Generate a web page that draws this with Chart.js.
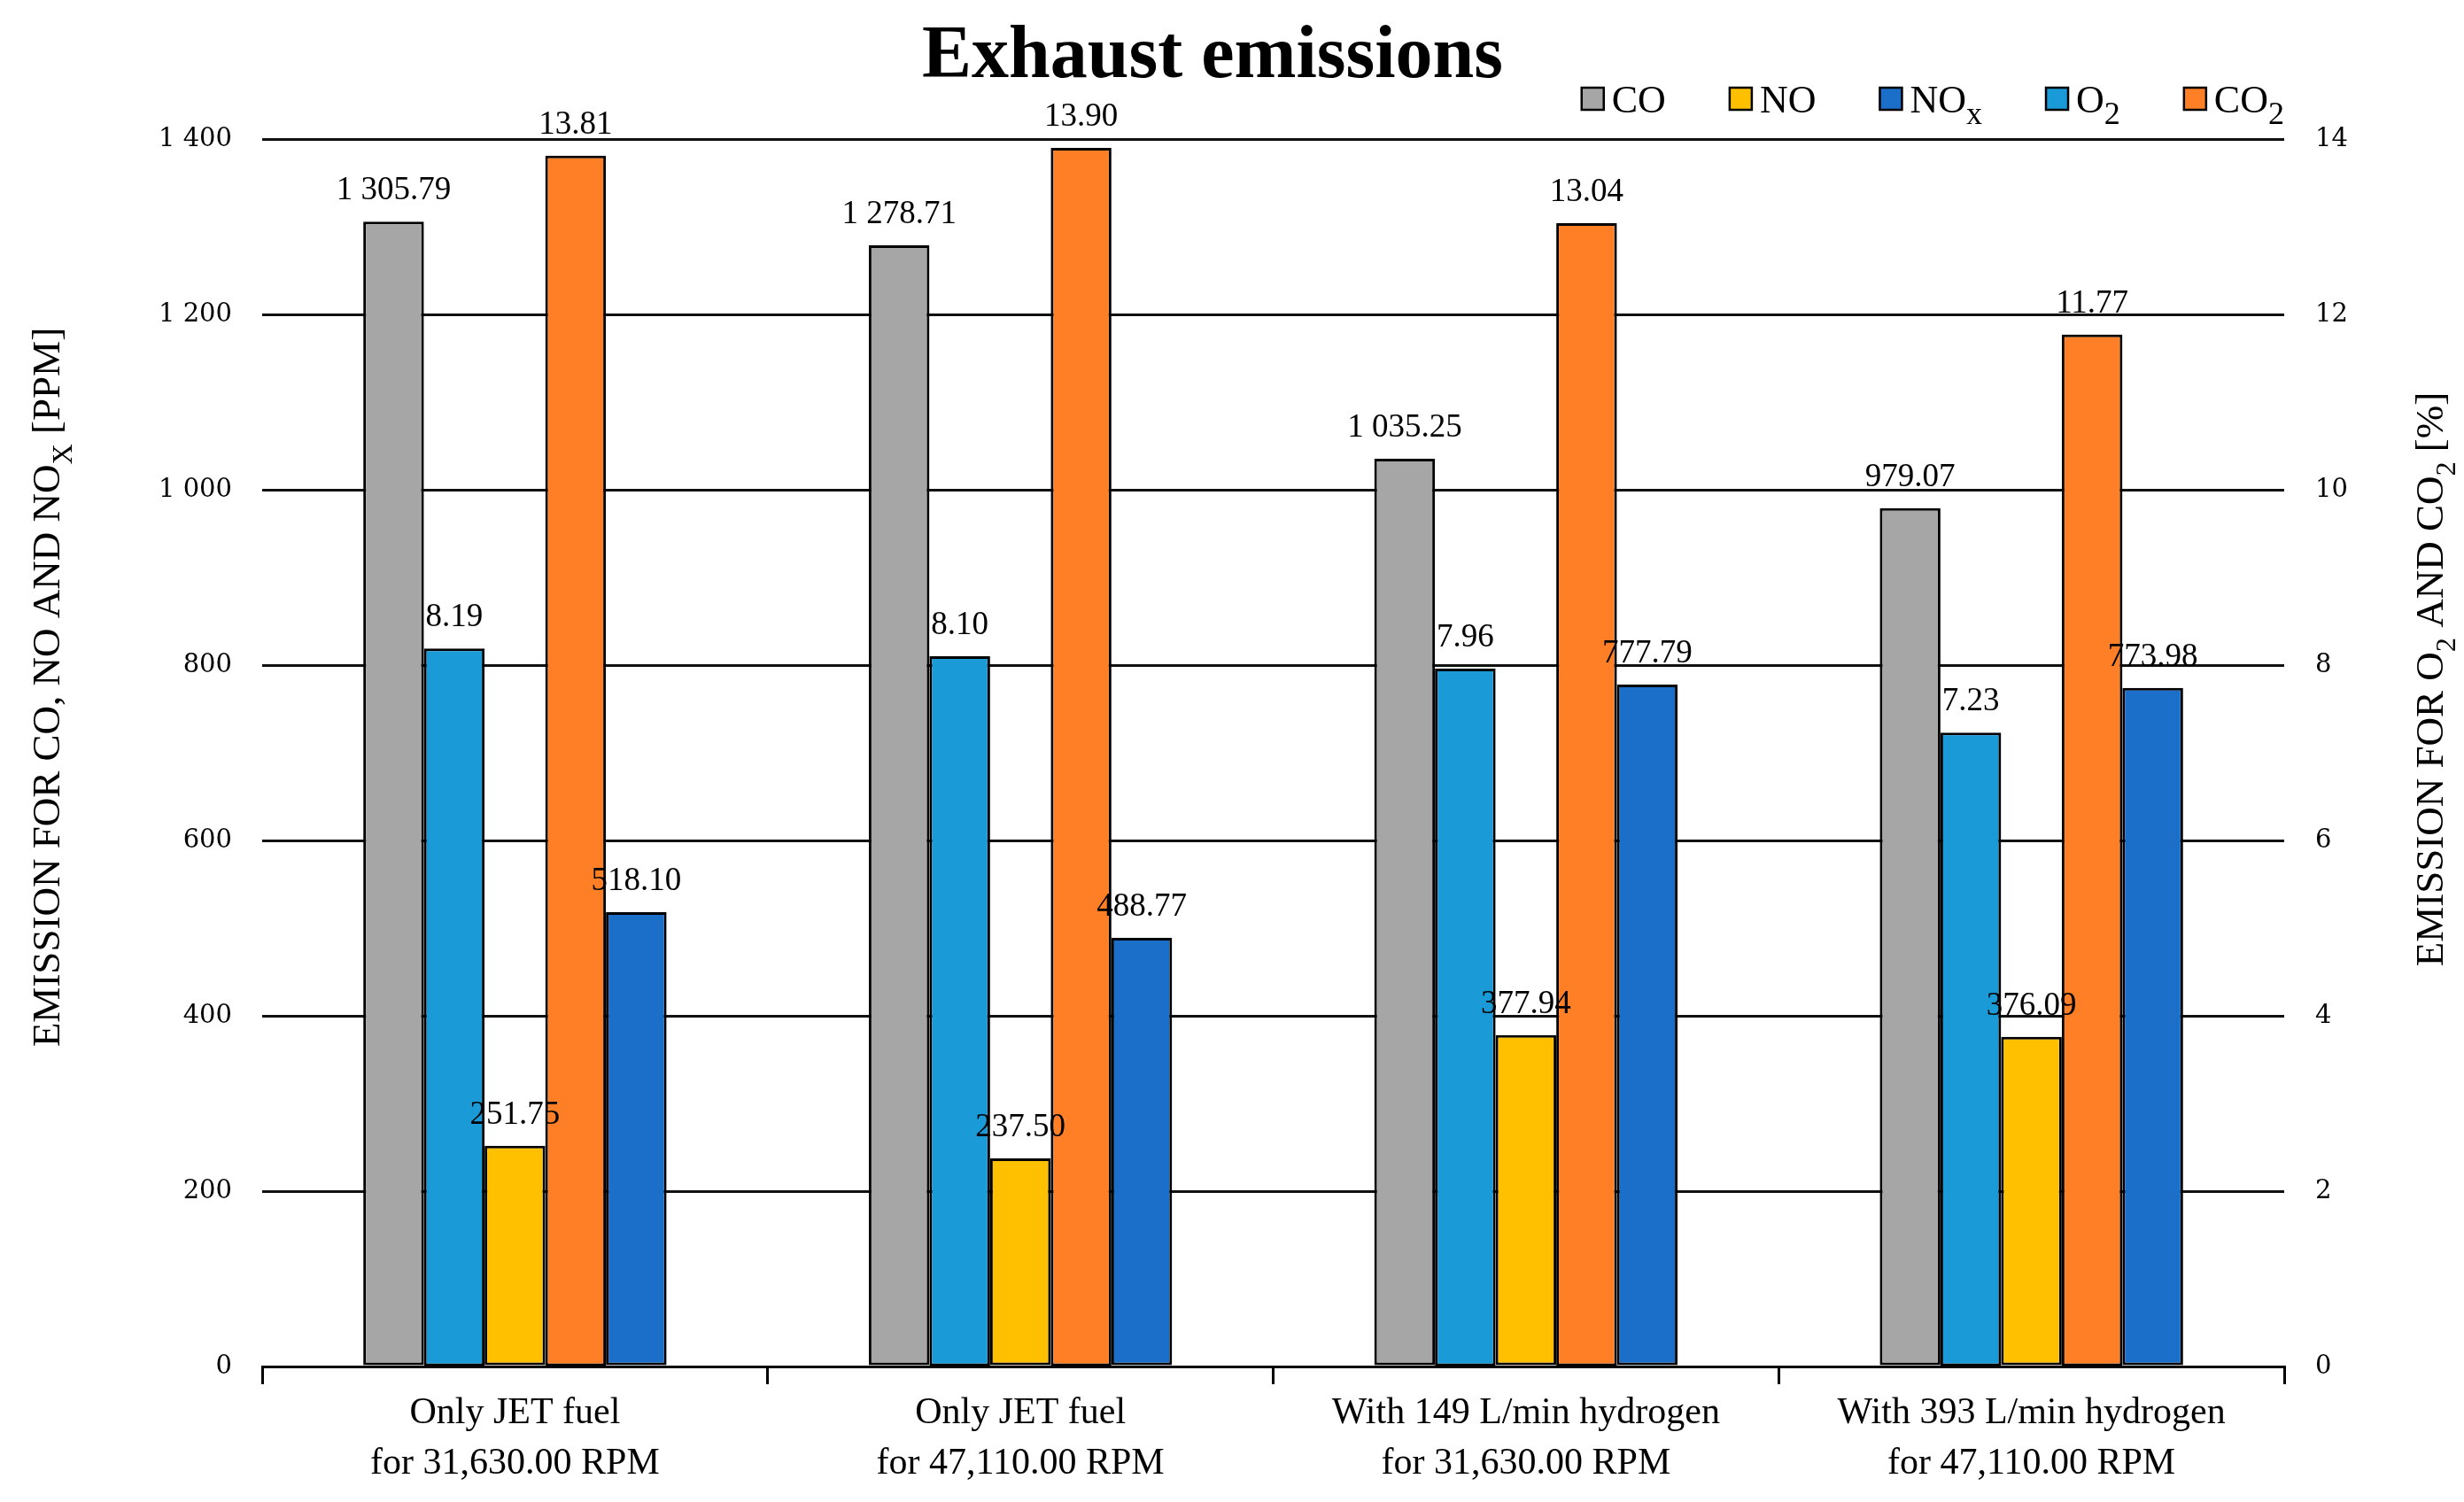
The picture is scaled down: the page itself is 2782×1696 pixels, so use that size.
<!DOCTYPE html>
<html>
<head>
<meta charset="utf-8">
<title>Exhaust emissions</title>
<script src="https://cdn.jsdelivr.net/npm/chart.js@4.4.1/dist/chart.umd.min.js"></script>
<style>
  html, body { margin: 0; padding: 0; background: #fff; }
  #wrap { width: 2782px; height: 1696px; position: relative; }
</style>
</head>
<body>
<div id="wrap"><canvas id="chart"></canvas></div>
<script>
'use strict'

// ************* Data ****************
let categories = [
  ['Only JET fuel', 'for 31,630.00 RPM'],
  ['Only JET fuel', 'for 47,110.00 RPM'],
  ['With 149 L/min hydrogen', 'for 31,630.00 RPM'],
  ['With 393 L/min hydrogen', 'for 47,110.00 RPM']
];
let coValues = [1305.79, 1278.71, 1035.25, 979.07];
let noValues = [251.75, 237.50, 377.94, 376.09];
let noxValues = [518.10, 488.77, 777.79, 773.98];
let o2Values = [8.19, 8.10, 7.96, 7.23];
let co2Values = [13.81, 13.90, 13.04, 11.77];
let ppmTicks = [0, 200, 400, 600, 800, 1000, 1200, 1400];
let percentTicks = [0, 2, 4, 6, 8, 10, 12, 14];

// legend shows the series in this order (dataset indexes)
let legendOrder = [0, 2, 4, 1, 3];

const SERIF = '"Liberation Serif", "Times New Roman", serif';

// ************ Helpers **********
function withSpaces(n, digits) {
  let parts = n.toFixed(digits).split('.');
  parts[0] = parts[0].replace(/\B(?=(\d{3})+(?!\d))/g, ' ');
  return parts.join('.');
}

// draws text pieces, some of them as subscripts; returns total width
function drawRich(ctx, parts, x, y, size, align, subScale) {
  subScale = subScale || 0.72;
  let widths = parts.map(p => {
    ctx.font = (p[1] ? size * subScale : size) + 'px ' + SERIF;
    return ctx.measureText(p[0]).width;
  });
  let total = widths.reduce((a, b) => a + b, 0);
  let cx = x;
  if (align === 'center') cx = x - total / 2;
  if (align === 'right') cx = x - total;
  ctx.textAlign = 'left';
  parts.forEach((p, i) => {
    ctx.font = (p[1] ? size * subScale : size) + 'px ' + SERIF;
    ctx.fillText(p[0], cx, p[1] ? y + size * 0.3 : y);
    cx += widths[i];
  });
  return total;
}

function measureRich(ctx, parts, size, subScale) {
  subScale = subScale || 0.72;
  let total = 0;
  parts.forEach(p => {
    ctx.font = (p[1] ? size * subScale : size) + 'px ' + SERIF;
    total += ctx.measureText(p[0]).width;
  });
  return total;
}

function labelParts(label) {
  let m = label.match(/^(.*?)([x2]?)$/);
  let parts = [[m[1], false]];
  if (m[2]) parts.push([m[2], true]);
  return parts;
}

// ************ Plugins **********
let titlePlugin = {
  id: 'titleAndAxisNames',
  afterDraw(chart) {
    let ctx = chart.ctx;
    let area = chart.chartArea;
    ctx.save();
    ctx.fillStyle = '#000';
    ctx.textBaseline = 'alphabetic';
    ctx.textAlign = 'center';
    ctx.font = 'bold 84px ' + SERIF;
    ctx.fillText('Exhaust emissions', chart.width / 2 - 22, 87);

    // left axis name
    ctx.save();
    ctx.translate(67, (area.top + area.bottom) / 2 - 74);
    ctx.rotate(-Math.PI / 2);
    drawRich(ctx, [['EMISSION FOR CO, NO AND NO', false], ['X', true], [' [PPM]', false]], 0, 0, 45, 'center');
    ctx.restore();

    // right axis name
    ctx.save();
    ctx.translate(chart.width - 24, (area.top + area.bottom) / 2 - 83);
    ctx.rotate(-Math.PI / 2);
    drawRich(ctx, [['EMISSION FOR O', false], ['2', true], [' AND CO', false], ['2', true], [' [%]', false]], 0, 0, 45, 'center');
    ctx.restore();
    ctx.restore();
  }
};

let legendPlugin = {
  id: 'boxLegend',
  afterDraw(chart) {
    let ctx = chart.ctx;
    let size = 44, box = 25, gap = 9, spacing = 72, sub = 0.82;
    let baseline = 127;
    ctx.save();
    ctx.textBaseline = 'alphabetic';
    let x = chart.chartArea.right;
    for (let k = legendOrder.length - 1; k >= 0; k--) {
      let ds = chart.data.datasets[legendOrder[k]];
      let parts = labelParts(ds.label);
      let w = measureRich(ctx, parts, size, sub);
      let textX = x - w;
      ctx.fillStyle = '#000';
      drawRich(ctx, parts, textX, baseline, size, 'left', sub);
      let boxX = textX - gap - box;
      ctx.fillStyle = ds.backgroundColor;
      ctx.fillRect(boxX, baseline - 28, box, box);
      ctx.lineWidth = 2.5;
      ctx.strokeStyle = '#000';
      ctx.strokeRect(boxX, baseline - 28, box, box);
      x = boxX - spacing;
    }
    ctx.restore();
  }
};

let valueLabels = {
  id: 'valueLabels',
  afterDatasetsDraw(chart) {
    let ctx = chart.ctx;
    ctx.save();
    ctx.fillStyle = '#000';
    ctx.font = '37px ' + SERIF;
    ctx.textAlign = 'center';
    ctx.textBaseline = 'alphabetic';
    chart.data.datasets.forEach((ds, i) => {
      let meta = chart.getDatasetMeta(i);
      meta.data.forEach((bar, j) => {
        ctx.fillText(withSpaces(ds.data[j], 2), bar.x, bar.y - 25);
      });
    });
    ctx.restore();
  }
};

// ************* Chart *************
let chart = document.getElementById('chart');

function barSet(label, data, color, axis) {
  return {
    label: label,
    data: data,
    yAxisID: axis,
    backgroundColor: color,
    borderColor: '#000',
    borderWidth: 3,
    borderSkipped: false,
    categoryPercentage: 0.6,
    barPercentage: 1.0
  };
}

let myChart = new Chart(chart, {
  type: 'bar',
  data: {
    labels: categories,
    datasets: [
      barSet('CO', coValues, '#a6a6a6', 'y'),
      barSet('O2', o2Values, '#1a9bd7', 'y1'),
      barSet('NO', noValues, '#ffc000', 'y'),
      barSet('CO2', co2Values, '#ff7f27', 'y1'),
      barSet('NOx', noxValues, '#1b6fc8', 'y')
    ]
  },
  options: {
    responsive: true,
    maintainAspectRatio: false,
    devicePixelRatio: 1,
    animation: false,
    layout: { padding: { top: 157, left: 0, right: 0, bottom: 0 } },
    plugins: {
      legend: { display: false },
      title: { display: false },
      tooltip: { enabled: false }
    },
    scales: {
      x: {
        grid: { offset: true, drawOnChartArea: false, color: '#000', lineWidth: 3, tickLength: 20 },
        border: { color: '#000', width: 3 },
        ticks: {
          color: '#000',
          font: { family: SERIF, size: 42, lineHeight: 1.36 },
          padding: 4,
          maxRotation: 0,
          autoSkip: false
        },
        afterFit: function (scale) { scale.height = 153; }
      },
      y: {
        position: 'left',
        min: 0,
        max: 1400,
        afterBuildTicks: function (scale) { scale.ticks = ppmTicks.map(v => ({ value: v })); },
        grid: { color: '#111', lineWidth: 3, drawTicks: false },
        border: { display: false },
        ticks: {
          color: '#000',
          font: { family: '"DejaVu Serif", serif', size: 29 },
          padding: 34,
          callback: function (value) { return withSpaces(value, 0); }
        },
        afterFit: function (scale) { scale.width = 296; }
      },
      y1: {
        position: 'right',
        min: 0,
        max: 14,
        afterBuildTicks: function (scale) { scale.ticks = percentTicks.map(v => ({ value: v })); },
        grid: { drawOnChartArea: false, drawTicks: false },
        border: { display: false },
        ticks: {
          color: '#000',
          font: { family: '"DejaVu Serif", serif', size: 29 },
          padding: 35
        },
        afterFit: function (scale) { scale.width = 203; }
      }
    }
  },
  plugins: [valueLabels, titlePlugin, legendPlugin]
});
</script>
</body>
</html>
